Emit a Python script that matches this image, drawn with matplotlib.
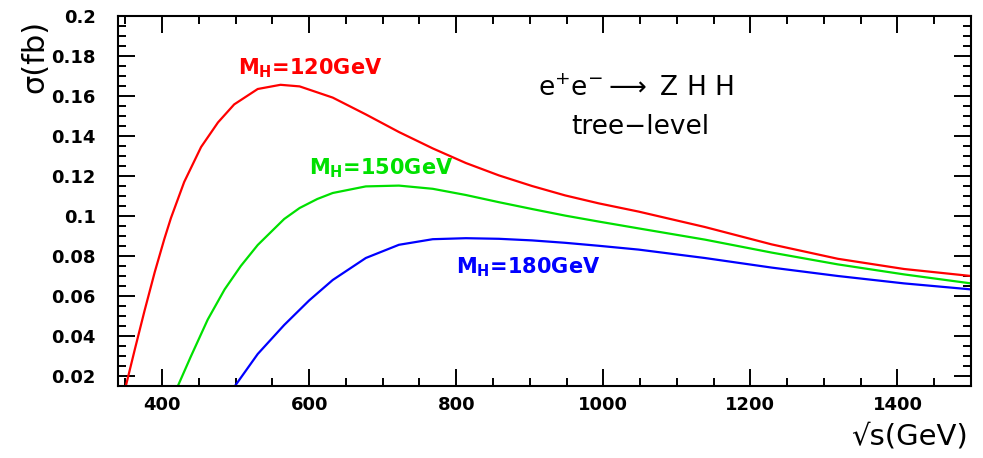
import matplotlib
matplotlib.use("Agg")
import matplotlib.pyplot as plt
from matplotlib.ticker import MultipleLocator, FixedLocator, FixedFormatter

plt.rcParams['font.family'] = ['DejaVu Sans']
plt.rcParams['mathtext.default'] = 'regular'

# --- data ---
x_120 = [351, 363, 376, 390, 403, 412, 430, 453, 476, 498, 530, 561, 587, 632, 677,
         722, 768, 813, 858, 903, 948, 994, 1048, 1138, 1229, 1319, 1409, 1500]
y_120 = [0.0155, 0.0335, 0.0525, 0.0720, 0.0885, 0.0990, 0.1170, 0.1345, 0.1468, 0.1558,
         0.1635, 0.1656, 0.1648, 0.1592, 0.1508, 0.1420, 0.1338, 0.1265, 0.1203, 0.1150,
         0.1103, 0.1063, 0.1022, 0.0945, 0.0858, 0.0786, 0.0735, 0.0700]

x_150 = [422, 439, 462, 485, 507, 530, 566, 587, 611, 632, 677, 722, 768, 813, 858,
         903, 948, 994, 1048, 1138, 1229, 1319, 1409, 1500]
y_150 = [0.0155, 0.0297, 0.0482, 0.0633, 0.0750, 0.0855, 0.0985, 0.1040, 0.1085, 0.1115,
         0.1148, 0.1152, 0.1136, 0.1105, 0.1069, 0.1035, 0.1002, 0.0972, 0.0938, 0.0882,
         0.0817, 0.0758, 0.0708, 0.0663]

x_180 = [500, 530, 566, 600, 632, 677, 722, 768, 813, 858, 903, 948, 994, 1048, 1138,
         1229, 1319, 1409, 1500]
y_180 = [0.0155, 0.0310, 0.0455, 0.0578, 0.0680, 0.0790, 0.0856, 0.0884, 0.0889, 0.0886,
         0.0878, 0.0866, 0.0851, 0.0832, 0.0790, 0.0742, 0.0700, 0.0663, 0.0633]

labels = ["M$_{H}$=120GeV", "M$_{H}$=150GeV", "M$_{H}$=180GeV"]
colors = ["#ff0000", "#00e000", "#0000ff"]

x_ticks = [400, 600, 800, 1000, 1200, 1400]
y_ticks = [0.02, 0.04, 0.06, 0.08, 0.1, 0.12, 0.14, 0.16, 0.18, 0.2]
y_tick_labels = ["0.02", "0.04", "0.06", "0.08", "0.1", "0.12", "0.14", "0.16", "0.18", "0.2"]

fig = plt.figure(figsize=(9.83, 4.58), dpi=100)
ax = fig.add_axes([118/983, 1-386/458, (971-118)/983, (386-16)/458])

for xs, ys, c in zip([x_120, x_150, x_180], [y_120, y_150, y_180], colors):
    ax.plot(xs, ys, color=c, lw=1.6, solid_joinstyle='round')

ax.set_xlim(340, 1500)
ax.set_ylim(0.015, 0.2)

ax.xaxis.set_major_locator(FixedLocator(x_ticks))
ax.xaxis.set_minor_locator(MultipleLocator(50))
ax.yaxis.set_major_locator(FixedLocator(y_ticks))
ax.yaxis.set_major_formatter(FixedFormatter(y_tick_labels))
ax.yaxis.set_minor_locator(MultipleLocator(0.005))

ax.tick_params(which='both', direction='in', top=True, right=True, width=1.4, color='black')
ax.tick_params(which='major', length=12)
ax.tick_params(which='minor', length=6)
ax.tick_params(axis='y', which='major', pad=16, labelsize=13)
ax.tick_params(axis='x', which='major', pad=7, labelsize=13)
for lab in ax.get_xticklabels() + ax.get_yticklabels():
    lab.set_fontweight('bold')
for s in ax.spines.values():
    s.set_linewidth(1.5)

# curve labels
ax.text(503, 0.174, labels[0], color=colors[0], fontsize=15, fontweight='bold', va='center', ha='left')
ax.text(600, 0.1237, labels[1], color=colors[1], fontsize=15, fontweight='bold', va='center', ha='left')
ax.text(800, 0.0743, labels[2], color=colors[2], fontsize=15, fontweight='bold', va='center', ha='left')

# process text
ax.text(1044, 0.1635, "e$^{+}$e$^{-}$$\\longrightarrow$ Z H H", fontsize=19, ha='center', va='center')
ax.text(1050, 0.1445, "tree\u2212level", fontsize=19, ha='center', va='center')

# axis labels
fig.text(35/983, 1-56/458, "\u03c3(fb)", fontsize=22, rotation=90, ha='center', va='center')
fig.text(968/983, 1-437/458, "\u221as(GeV)", fontsize=21, ha='right', va='center')

fig.savefig("out.png", dpi=100)
